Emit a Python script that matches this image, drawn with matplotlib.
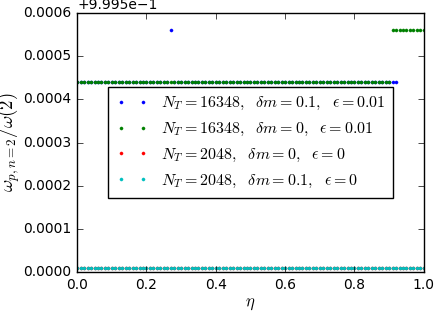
import matplotlib
matplotlib.use("Agg")
import matplotlib.pyplot as plt
import numpy as np
from matplotlib.ticker import ScalarFormatter

# eta sampling grid (101 points, step 0.01)
eta = np.linspace(0.0, 1.0, 101)

# levels (absolute values, offset 0.9995)
low_level = 0.99994
high_level = 1.00006
base_level = 0.99951

# series 1: N_T=16348, dm=0.1, eps=0.01 -> low level up to 0.92, one outlier at 0.27
blue_end = 0.92
blue_outlier_eta = 0.27
# series 2: N_T=16348, dm=0, eps=0.01 -> jumps to high level after 0.905
green_jump = 0.905

labels = [
    r"$N_T=16348,\ \ \delta m=0.1,\ \ \epsilon=0.01$",
    r"$N_T=16348,\ \ \delta m=0,\ \ \epsilon=0.01$",
    r"$N_T=2048,\ \ \delta m=0,\ \ \epsilon=0$",
    r"$N_T=2048,\ \ \delta m=0.1,\ \ \epsilon=0$",
]

eta_blue = eta[eta <= blue_end + 1e-9]
y_blue = np.full(eta_blue.shape, low_level)
y_blue[np.isclose(eta_blue, blue_outlier_eta)] = high_level

y_green = np.where(eta < green_jump, low_level, high_level)
y_red = np.full(eta.shape, base_level)
y_cyan = np.full(eta.shape, base_level)

plt.style.use("classic")
plt.rcParams["mathtext.fontset"] = "cm"

fig = plt.figure(figsize=(4.36, 3.13), dpi=100, facecolor="white")
ax = fig.add_axes([0.177, 0.131, 0.795, 0.827])

ms = 4.5
ax.plot(eta_blue, y_blue, ".", color="b", ms=ms, mec="b", mew=0.3, label=labels[0])
ax.plot(eta, y_green, ".", color="g", ms=ms, mec="g", mew=0.3, label=labels[1])
ax.plot(eta, y_red, ".", color="r", ms=ms, mec="r", mew=0.3, label=labels[2])
ax.plot(eta, y_cyan, ".", color="c", ms=ms, mec="c", mew=0.3, label=labels[3])

ax.set_xlim(0, 1)
ax.set_ylim(0.9995, 1.0001)
ax.set_xticks([0.0, 0.2, 0.4, 0.6, 0.8, 1.0])
ax.set_yticks(0.9995 + np.array([0, 1, 2, 3, 4, 5, 6]) * 1e-4)
fmt = ScalarFormatter(useOffset=0.9995)
ax.yaxis.set_major_formatter(fmt)
ax.tick_params(labelsize=10)
ax.yaxis.get_offset_text().set_fontsize(10)

ax.set_xlabel(r"$\eta$", fontsize=12, labelpad=2)
ax.set_ylabel(r"$\omega_{p,n=2}/\omega(2)$", fontsize=13.5, labelpad=1)

ax.legend(loc="center", numpoints=2, fontsize=11.5, frameon=True, fancybox=False,
          labelspacing=0.55, handlelength=2.0, borderpad=0.5)

fig.savefig("out.png", dpi=100, facecolor="white")
